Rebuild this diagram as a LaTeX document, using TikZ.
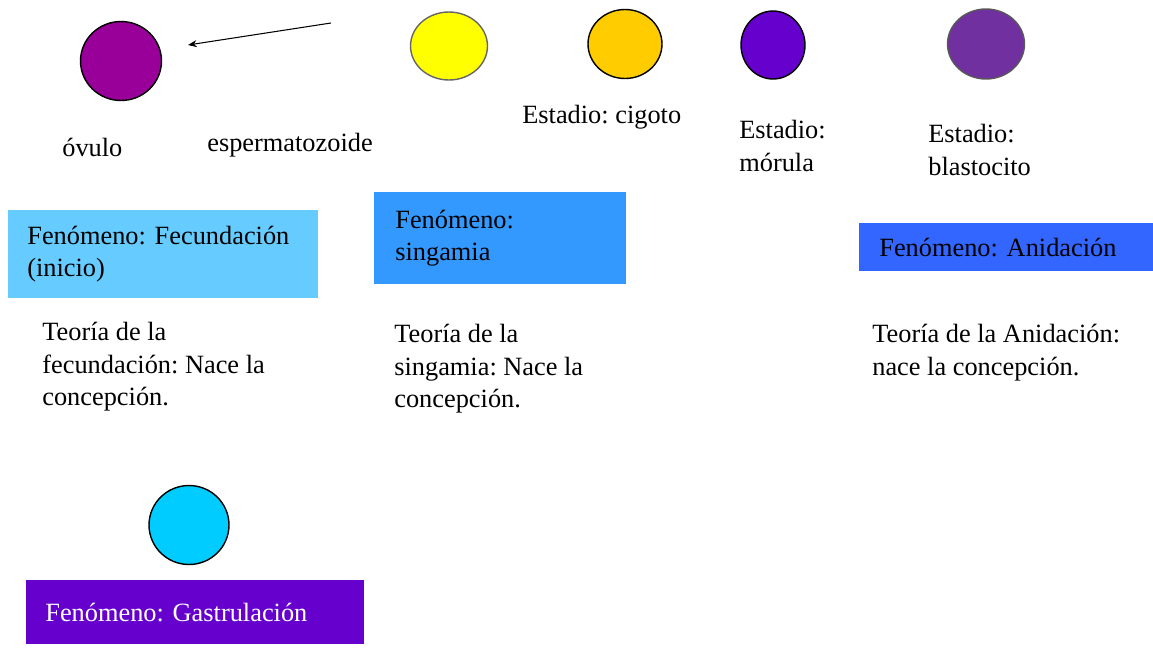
\documentclass[tikz,border=0pt]{standalone}
\usepackage{fontspec}
\setmainfont{LiberationSerif}[Extension=.ttf,UprightFont=*-Regular,BoldFont=*-Bold]
\usetikzlibrary{shapes.geometric,arrows.meta}
\frenchspacing

\definecolor{ovulocol}{HTML}{990099}
\definecolor{espermcol}{HTML}{FFFF00}
\definecolor{cigotocol}{HTML}{FFCC00}
\definecolor{morulacol}{HTML}{6600CC}
\definecolor{blastocol}{HTML}{7030A0}
\definecolor{gastrucol}{HTML}{00CCFF}
\definecolor{fecundbox}{HTML}{66CCFF}
\definecolor{singambox}{HTML}{3399FF}
\definecolor{anidabox}{HTML}{3366FF}
\definecolor{gastrubox}{HTML}{6600CC}

\begin{document}
\begin{tikzpicture}[x=0.02cm,y=-0.02cm,
    font=\rmfamily\fontsize{15}{18.5}\selectfont,
    cell/.style={shape=ellipse,draw=black,line width=0.8pt,inner sep=0pt},
    txt/.style={inner sep=0pt,align=left},
    fenomeno/.style={anchor=north west,inner ysep=0pt,align=left}]
    \useasboundingbox (0,0) rectangle (1153,653);

    % cells
    \node[cell,fill=ovulocol,minimum width=1.62cm,minimum height=1.58cm] (ovulo) at (121,61) {};
    \node[cell,fill=espermcol,draw=gray!80!black,minimum width=1.54cm,minimum height=1.36cm] (esperm) at (449,46) {};
    \node[cell,fill=cigotocol,minimum width=1.48cm,minimum height=1.38cm] (cigoto) at (625,44) {};
    \node[cell,fill=morulacol,minimum width=1.28cm,minimum height=1.36cm] (morula) at (773,45) {};
    \node[cell,fill=blastocol,draw=gray!70!black,minimum width=1.54cm,minimum height=1.40cm] (blasto) at (986,44) {};
    \node[cell,fill=gastrucol,minimum width=1.60cm,minimum height=1.58cm] (gastru) at (189,525) {};

    \coordinate (sptail) at (331,23);
    \coordinate (sphead) at (188,45);
    \draw[line width=0.6pt,-{Stealth[length=5pt,width=4pt]}] (sptail) -- (sphead);

    % stage labels
    \node[txt,anchor=west] (lovulo) at (62,147) {óvulo};
    \node[txt,anchor=west] (lesperm) at (207,145) {espermatozoide};
    \node[txt,anchor=west] (lcigoto) at (522,117) {Estadio: cigoto};
    \node[txt,anchor=north west] (lmorula) at (739,120) {Estadio:\\mórula};
    \node[txt,anchor=north west] (lblasto) at (928,124) {Estadio:\\blastocito};

    % phenomena
    \node[fenomeno,fill=fecundbox,minimum width=6.2cm,minimum height=1.76cm,inner xsep=0.38cm,text width=5.44cm] (fecund) at (8,210) {Fenómeno: Fecundación\\(inicio)};
    \node[fenomeno,fill=singambox,minimum width=5.04cm,minimum height=1.84cm,inner xsep=0.42cm,text width=4.2cm] (singam) at (374,192) {Fenómeno:\\singamia};
    \node[fenomeno,fill=anidabox,minimum width=5.88cm,minimum height=0.96cm,inner xsep=0.4cm,text width=5.08cm] (anida) at (859,223) {Fenómeno: Anidación};
    \node[fenomeno,fill=gastrubox,text=white,minimum width=6.76cm,minimum height=1.28cm,inner xsep=0.38cm,text width=6cm] (gastruf) at (26,580) {Fenómeno: Gastrulación};

    % theories
    \node[txt,anchor=north west] (tfecund) at (42,322) {Teoría de la\\fecundación: Nace la\\concepción.};
    \node[txt,anchor=north west] (tsingam) at (394,324) {Teoría de la\\singamia: Nace la\\concepción.};
    \node[txt,anchor=north west] (tanida) at (872,324) {Teoría de la Anidación:\\nace la concepción.};

  \end{tikzpicture}
\end{document}
